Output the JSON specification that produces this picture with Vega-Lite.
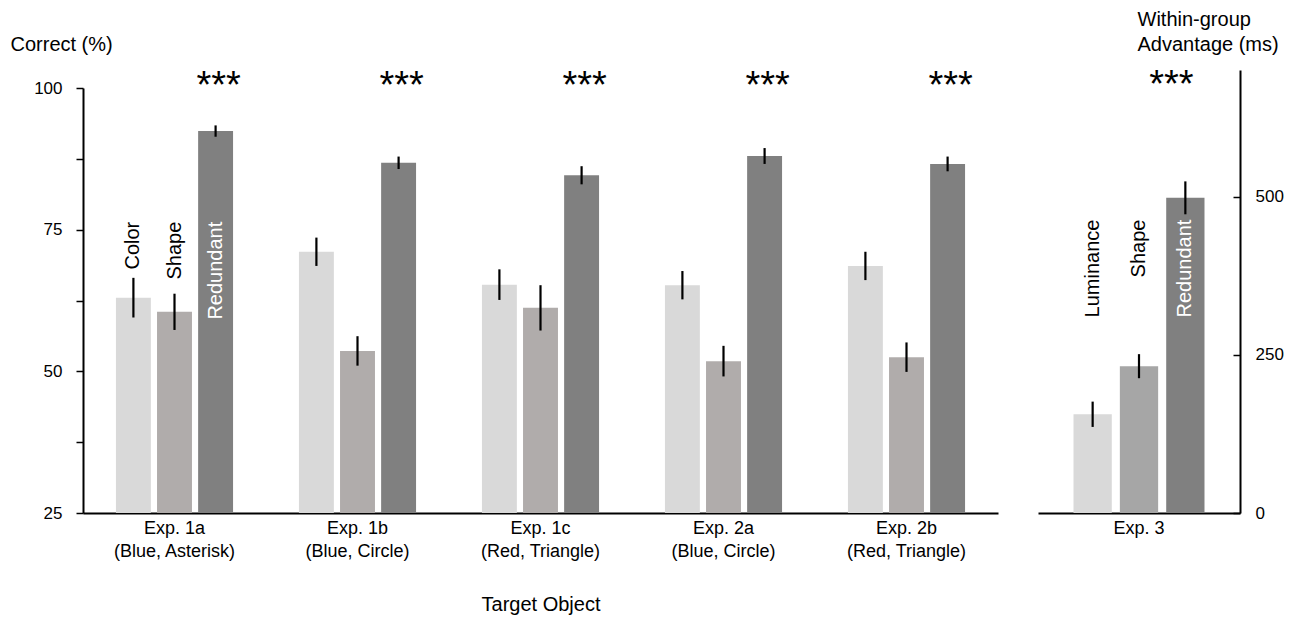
{
  "$schema": "https://vega.github.io/schema/vega-lite/v6.json",
  "width": 1157,
  "height": 443,
  "autosize": {"type": "none"},
  "padding": {"left": 83, "top": 70, "right": 59, "bottom": 107},
  "background": "white",
  "config": {
    "font": "Liberation Sans",
    "view": {"stroke": null},
    "axis": {
      "domainColor": "black",
      "domainWidth": 2,
      "tickColor": "black",
      "tickWidth": 1.5,
      "labelColor": "black",
      "titleColor": "black",
      "grid": false,
      "labelFont": "Liberation Sans",
      "titleFont": "Liberation Sans",
      "titleFontWeight": "normal"
    }
  },
  "datasets": {
    "acc": [
      {"exp": "Exp. 1a\n(Blue, Asterisk)", "cond": "Color", "mean": 63.0, "lo": 59.5, "hi": 66.5, "label": "Color"},
      {"exp": "Exp. 1a\n(Blue, Asterisk)", "cond": "Shape", "mean": 60.5, "lo": 57.3, "hi": 63.7, "label": "Shape"},
      {"exp": "Exp. 1a\n(Blue, Asterisk)", "cond": "Redundant", "mean": 92.4, "lo": 91.4, "hi": 93.4, "label": "Redundant", "sig": "***"},
      {"exp": "Exp. 1b\n(Blue, Circle)", "cond": "Color", "mean": 71.1, "lo": 68.6, "hi": 73.6},
      {"exp": "Exp. 1b\n(Blue, Circle)", "cond": "Shape", "mean": 53.6, "lo": 51.0, "hi": 56.2},
      {"exp": "Exp. 1b\n(Blue, Circle)", "cond": "Redundant", "mean": 86.8, "lo": 85.7, "hi": 87.9, "sig": "***"},
      {"exp": "Exp. 1c\n(Red, Triangle)", "cond": "Color", "mean": 65.3, "lo": 62.6, "hi": 68.0},
      {"exp": "Exp. 1c\n(Red, Triangle)", "cond": "Shape", "mean": 61.2, "lo": 57.2, "hi": 65.2},
      {"exp": "Exp. 1c\n(Red, Triangle)", "cond": "Redundant", "mean": 84.6, "lo": 83.0, "hi": 86.2, "sig": "***"},
      {"exp": "Exp. 2a\n(Blue, Circle)", "cond": "Color", "mean": 65.2, "lo": 62.7, "hi": 67.7},
      {"exp": "Exp. 2a\n(Blue, Circle)", "cond": "Shape", "mean": 51.8, "lo": 49.1, "hi": 54.5},
      {"exp": "Exp. 2a\n(Blue, Circle)", "cond": "Redundant", "mean": 88.0, "lo": 86.6, "hi": 89.4, "sig": "***"},
      {"exp": "Exp. 2b\n(Red, Triangle)", "cond": "Color", "mean": 68.6, "lo": 66.1, "hi": 71.1},
      {"exp": "Exp. 2b\n(Red, Triangle)", "cond": "Shape", "mean": 52.5, "lo": 49.9, "hi": 55.1},
      {"exp": "Exp. 2b\n(Red, Triangle)", "cond": "Redundant", "mean": 86.6, "lo": 85.3, "hi": 87.9, "sig": "***"}
    ],
    "rt": [
      {"exp": "Exp. 3", "cond": "Luminance", "mean": 156, "lo": 136, "hi": 176, "label": "Luminance"},
      {"exp": "Exp. 3", "cond": "Shape", "mean": 232, "lo": 213, "hi": 251, "label": "Shape"},
      {"exp": "Exp. 3", "cond": "Redundant", "mean": 498, "lo": 472, "hi": 524, "label": "Redundant", "sig": "***"}
    ]
  },
  "layer": [
    {
      "data": {"name": "acc"},
      "encoding": {
        "x": {
          "field": "exp",
          "type": "nominal",
          "sort": null,
          "scale": {"range": [0, 915], "paddingInner": 0.36, "paddingOuter": 0.18},
          "axis": {
            "orient": "bottom",
            "ticks": false,
            "labelAngle": 0,
            "labelFontSize": 18,
            "labelLineHeight": 23,
            "labelPadding": 6,
            "labelExpr": "split(datum.label, '\\n')",
            "title": "Target Object",
            "titleFontSize": 20,
            "titleY": 97,
            "titleBaseline": "alphabetic"
          }
        },
        "xOffset": {
          "field": "cond",
          "type": "nominal",
          "scale": {"domain": ["Color", "Shape", "Redundant"], "paddingInner": 0.15, "paddingOuter": 0}
        }
      },
      "layer": [
        {
          "mark": {"type": "bar"},
          "encoding": {
            "y": {
              "field": "mean",
              "type": "quantitative",
              "scale": {"domain": [25, 100], "range": [443, 18], "nice": false, "zero": false},
              "axis": {
                "orient": "left",
                "values": [25, 37.5, 50, 62.5, 75, 87.5, 100],
                "labelExpr": "datum.value % 25 === 0 ? datum.label : ''",
                "labelFontSize": 17,
                "labelPadding": 14,
                "tickSize": 7,
                "title": "Correct (%)",
                "titleFontSize": 20,
                "titleAngle": 0,
                "titleAlign": "left",
                "titleBaseline": "alphabetic",
                "titleX": -73,
                "titleY": -20
              }
            },
            "y2": {"datum": 25},
            "color": {
              "field": "cond",
              "type": "nominal",
              "scale": {"domain": ["Color", "Shape", "Redundant"], "range": ["#d9d9d9", "#b0acab", "#808080"]},
              "legend": null
            }
          }
        },
        {
          "mark": {"type": "rule", "strokeWidth": 2.2, "color": "black"},
          "encoding": {
            "y": {"field": "lo", "type": "quantitative"},
            "y2": {"field": "hi"}
          }
        },
        {
          "transform": [{"filter": "datum.sig != null"}],
          "mark": {"type": "text", "fontSize": 38, "baseline": "alphabetic", "align": "center", "dx": 3, "color": "black"},
          "encoding": {
            "y": {"datum": 98.2},
            "text": {"field": "sig"}
          }
        },
        {
          "transform": [{"filter": "datum.label != null"}],
          "mark": {"type": "text", "angle": 270, "align": "right", "baseline": "middle", "fontSize": 20},
          "encoding": {
            "y": {"datum": 76.4},
            "text": {"field": "label"},
            "color": {"condition": {"test": "datum.cond === 'Redundant'", "value": "white"}, "value": "black"}
          }
        }
      ]
    },
    {
      "data": {"name": "rt"},
      "encoding": {
        "x": {
          "field": "exp",
          "type": "nominal",
          "scale": {"range": [955, 1157], "paddingInner": 0, "paddingOuter": 0.271},
          "axis": {
            "orient": "bottom",
            "ticks": false,
            "labelAngle": 0,
            "labelFontSize": 18,
            "labelPadding": 6,
            "title": null
          }
        },
        "xOffset": {
          "field": "cond",
          "type": "nominal",
          "scale": {"domain": ["Luminance", "Shape", "Redundant"], "paddingInner": 0.174, "paddingOuter": 0}
        }
      },
      "layer": [
        {
          "mark": {"type": "bar"},
          "encoding": {
            "y": {
              "field": "mean",
              "type": "quantitative",
              "scale": {"domain": [0, 700], "range": [443, 0], "nice": false},
              "axis": {
                "orient": "right",
                "values": [0, 250, 500],
                "labelFontSize": 17,
                "tickSize": -7,
                "labelPadding": 22,
                "title": ["Within-group", "Advantage (ms)"],
                "titleFontSize": 20,
                "titleAngle": 0,
                "titleAlign": "left",
                "titleBaseline": "alphabetic",
                "titleLineHeight": 25,
                "titleX": -103,
                "titleY": -45
              }
            },
            "y2": {"datum": 0},
            "color": {
              "field": "cond",
              "type": "nominal",
              "scale": {"domain": ["Luminance", "Shape", "Redundant"], "range": ["#d9d9d9", "#a6a6a6", "#808080"]},
              "legend": null
            }
          }
        },
        {
          "mark": {"type": "rule", "strokeWidth": 2.2, "color": "black"},
          "encoding": {
            "y": {"field": "lo", "type": "quantitative"},
            "y2": {"field": "hi"}
          }
        },
        {
          "transform": [{"filter": "datum.sig != null"}],
          "mark": {"type": "text", "fontSize": 38, "baseline": "alphabetic", "align": "center", "dx": -14, "color": "black"},
          "encoding": {
            "y": {"datum": 658},
            "text": {"field": "sig"}
          }
        },
        {
          "transform": [{"filter": "datum.label != null"}],
          "mark": {"type": "text", "angle": 270, "align": "right", "baseline": "middle", "fontSize": 20},
          "encoding": {
            "y": {"datum": 463.6},
            "text": {"field": "label"},
            "color": {"condition": {"test": "datum.cond === 'Redundant'", "value": "white"}, "value": "black"}
          }
        }
      ]
    }
  ],
  "resolve": {
    "scale": {"x": "independent", "y": "independent", "xOffset": "independent", "color": "independent"},
    "axis": {"x": "independent", "y": "independent"}
  }
}
